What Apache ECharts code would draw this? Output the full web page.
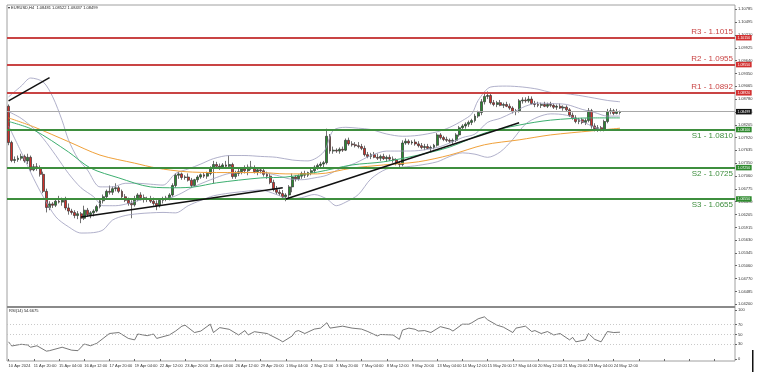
<!DOCTYPE html>
<html>
<head>
<meta charset="utf-8">
<script src="https://cdn.jsdelivr.net/npm/echarts@6/dist/echarts.min.js"></script>
<style>
html,body{margin:0;padding:0;background:#fff;}
#chart{width:760px;height:376px;}
</style>
</head>
<body>
<div id="chart"></div>
<script>
// EURUSD H4, 10 Apr 12:00 .. 24 May 2024
var symbolInfo = 'EURUSD,H4  1.08481 1.08522 1.08437 1.08499';
var rsiInfo = 'RSI(14) 54.6675';
var xTickLabels = ['10 Apr 2024','11 Apr 20:00','15 Apr 04:00','16 Apr 12:00','17 Apr 20:00','19 Apr 04:00',
  '22 Apr 12:00','23 Apr 20:00','25 Apr 04:00','26 Apr 12:00','29 Apr 20:00','1 May 04:00','2 May 12:00',
  '3 May 20:00','7 May 04:00','8 May 12:00','9 May 20:00','13 May 04:00','14 May 12:00','15 May 20:00',
  '17 May 04:00','20 May 12:00','21 May 20:00','23 May 04:00','24 May 12:00'];
var priceTicks = [1.10785,1.10495,1.10210,1.09925,1.09640,1.09350,1.09065,1.08780,1.08495,1.08205,1.07920,1.07635,
  1.07350,1.07060,1.06775,1.06490,1.06205,1.05915,1.05630,1.05345,1.05060,1.04770,1.04485,1.04200];
var rsiTicks = [100,70,50,30,0];
var rsiLevels = [70,50,30];
var levelNames = ['R3','R2','R1','S1','S2','S3'];
var levelValues = [1.1015,1.0955,1.0892,1.0810,1.0725,1.0655];
var lastPrice = 1.08499;

// [open, high, low, close]
var ohlc = [
[1.0862,1.0866,1.0775,1.0781],[1.0781,1.0785,1.0737,1.0741],[1.0741,1.0750,1.0735,1.0743],[1.0743,1.0752,1.0738,1.0746],
[1.0746,1.0756,1.0741,1.0750],[1.0750,1.0754,1.0736,1.0740],[1.0740,1.0756,1.0733,1.0748],[1.0748,1.0752,1.0716,1.0720],
[1.0720,1.0733,1.0717,1.0727],[1.0727,1.0735,1.0718,1.0724],[1.0724,1.0730,1.0705,1.0710],[1.0710,1.0716,1.0668,1.0672],
[1.0672,1.0678,1.0625,1.0636],[1.0636,1.0650,1.0630,1.0644],[1.0644,1.0648,1.0635,1.0641],[1.0641,1.0655,1.0637,1.0650],
[1.0650,1.0662,1.0645,1.0648],[1.0648,1.0658,1.0640,1.0652],[1.0652,1.0660,1.0630,1.0635],[1.0635,1.0645,1.0620,1.0628],
[1.0628,1.0633,1.0620,1.0625],[1.0625,1.0630,1.0612,1.0618],[1.0618,1.0628,1.0610,1.0622],[1.0622,1.0626,1.0601,1.0612],
[1.0612,1.0640,1.0608,1.0630],[1.0630,1.0635,1.0615,1.0620],[1.0620,1.0628,1.0612,1.0624],[1.0624,1.0632,1.0616,1.0628],
[1.0628,1.0642,1.0625,1.0638],[1.0638,1.0655,1.0634,1.0651],[1.0651,1.0665,1.0645,1.0660],[1.0660,1.0676,1.0655,1.0672],
[1.0672,1.0685,1.0665,1.0670],[1.0670,1.0683,1.0664,1.0678],[1.0678,1.0690,1.0672,1.0680],[1.0680,1.0684,1.0668,1.0672],
[1.0672,1.0676,1.0655,1.0660],[1.0660,1.0666,1.0648,1.0652],[1.0652,1.0658,1.0640,1.0645],[1.0645,1.0652,1.0612,1.0642],
[1.0642,1.0662,1.0638,1.0656],[1.0656,1.0668,1.0650,1.0664],[1.0664,1.0670,1.0652,1.0658],[1.0658,1.0665,1.0647,1.0655],
[1.0655,1.0660,1.0648,1.0654],[1.0654,1.0662,1.0646,1.0650],[1.0650,1.0658,1.0640,1.0645],[1.0645,1.0652,1.0630,1.0640],
[1.0640,1.0655,1.0636,1.0652],[1.0652,1.0660,1.0645,1.0655],[1.0655,1.0662,1.0650,1.0657],[1.0657,1.0668,1.0652,1.0664],
[1.0664,1.0690,1.0660,1.0685],[1.0685,1.0712,1.0680,1.0708],[1.0708,1.0716,1.0700,1.0711],[1.0711,1.0714,1.0698,1.0703],
[1.0703,1.0708,1.0698,1.0704],[1.0704,1.0712,1.0694,1.0697],[1.0697,1.0702,1.0680,1.0685],[1.0685,1.0700,1.0682,1.0698],
[1.0698,1.0708,1.0692,1.0704],[1.0704,1.0712,1.0700,1.0709],[1.0709,1.0714,1.0702,1.0706],[1.0706,1.0716,1.0700,1.0712],
[1.0712,1.0728,1.0708,1.0724],[1.0724,1.0740,1.0690,1.0732],[1.0732,1.0738,1.0722,1.0728],[1.0728,1.0734,1.0720,1.0726],
[1.0726,1.0735,1.0722,1.0731],[1.0731,1.0740,1.0725,1.0728],[1.0728,1.0752,1.0724,1.0732],[1.0732,1.0736,1.0700,1.0705],
[1.0705,1.0718,1.0700,1.0712],[1.0712,1.0722,1.0706,1.0716],[1.0716,1.0725,1.0710,1.0722],[1.0722,1.0730,1.0712,1.0718],
[1.0718,1.0732,1.0708,1.0726],[1.0726,1.0740,1.0720,1.0724],[1.0724,1.0730,1.0712,1.0716],[1.0716,1.0724,1.0708,1.0720],
[1.0720,1.0726,1.0712,1.0718],[1.0718,1.0724,1.0705,1.0710],[1.0710,1.0716,1.0700,1.0706],[1.0706,1.0712,1.0688,1.0692],
[1.0692,1.0698,1.0672,1.0676],[1.0676,1.0684,1.0665,1.0670],[1.0670,1.0676,1.0662,1.0667],[1.0667,1.0675,1.0655,1.0660],
[1.0660,1.0668,1.0650,1.0664],[1.0664,1.0686,1.0656,1.0682],[1.0682,1.0712,1.0670,1.0704],[1.0704,1.0708,1.0694,1.0700],
[1.0700,1.0710,1.0696,1.0706],[1.0706,1.0716,1.0700,1.0712],[1.0712,1.0718,1.0702,1.0708],[1.0708,1.0716,1.0704,1.0714],
[1.0714,1.0722,1.0708,1.0718],[1.0718,1.0730,1.0712,1.0726],[1.0726,1.0734,1.0720,1.0730],[1.0730,1.0738,1.0724,1.0733],
[1.0733,1.0740,1.0726,1.0736],[1.0736,1.0812,1.0732,1.0795],[1.0795,1.0800,1.0756,1.0762],[1.0762,1.0772,1.0756,1.0764],
[1.0764,1.0768,1.0758,1.0762],[1.0762,1.0770,1.0756,1.0766],[1.0766,1.0772,1.0760,1.0764],[1.0764,1.0790,1.0762,1.0786],
[1.0786,1.0792,1.0774,1.0778],[1.0778,1.0784,1.0772,1.0776],[1.0776,1.0782,1.0770,1.0774],[1.0774,1.0782,1.0768,1.0772],
[1.0772,1.0778,1.0764,1.0768],[1.0768,1.0774,1.0750,1.0754],[1.0754,1.0760,1.0746,1.0750],[1.0750,1.0758,1.0744,1.0754],
[1.0754,1.0760,1.0746,1.0748],[1.0748,1.0756,1.0742,1.0746],[1.0746,1.0754,1.0740,1.0750],[1.0750,1.0756,1.0742,1.0745],
[1.0745,1.0752,1.0738,1.0748],[1.0748,1.0754,1.0740,1.0744],[1.0744,1.0750,1.0736,1.0742],[1.0742,1.0746,1.0730,1.0734],
[1.0734,1.0740,1.0724,1.0732],[1.0732,1.0786,1.0728,1.0780],[1.0780,1.0790,1.0776,1.0784],[1.0784,1.0788,1.0776,1.0780],
[1.0780,1.0786,1.0776,1.0782],[1.0782,1.0788,1.0774,1.0778],[1.0778,1.0784,1.0770,1.0774],[1.0774,1.0780,1.0766,1.0770],
[1.0770,1.0778,1.0764,1.0772],[1.0772,1.0778,1.0766,1.0768],[1.0768,1.0774,1.0762,1.0770],[1.0770,1.0778,1.0766,1.0775],
[1.0775,1.0802,1.0772,1.0798],[1.0798,1.0802,1.0788,1.0792],[1.0792,1.0796,1.0784,1.0788],[1.0788,1.0794,1.0782,1.0786],
[1.0786,1.0790,1.0780,1.0784],[1.0784,1.0790,1.0778,1.0786],[1.0786,1.0802,1.0782,1.0798],[1.0798,1.0818,1.0794,1.0814],
[1.0814,1.0822,1.0808,1.0818],[1.0818,1.0826,1.0812,1.0822],[1.0822,1.0830,1.0816,1.0826],[1.0826,1.0834,1.0820,1.0830],
[1.0830,1.0845,1.0826,1.0840],[1.0840,1.0852,1.0836,1.0848],[1.0848,1.0878,1.0842,1.0872],[1.0872,1.0890,1.0866,1.0884],
[1.0884,1.0895,1.0878,1.0886],[1.0886,1.0890,1.0866,1.0870],[1.0870,1.0876,1.0862,1.0866],[1.0866,1.0874,1.0860,1.0870],
[1.0870,1.0876,1.0862,1.0864],[1.0864,1.0870,1.0858,1.0866],[1.0866,1.0872,1.0860,1.0862],[1.0862,1.0868,1.0854,1.0858],
[1.0858,1.0862,1.0846,1.0850],[1.0850,1.0856,1.0842,1.0852],[1.0852,1.0878,1.0848,1.0874],[1.0874,1.0882,1.0868,1.0876],
[1.0876,1.0882,1.0870,1.0874],[1.0874,1.0885,1.0870,1.0878],[1.0878,1.0884,1.0866,1.0868],[1.0868,1.0874,1.0860,1.0866],
[1.0866,1.0872,1.0860,1.0864],[1.0864,1.0870,1.0858,1.0866],[1.0866,1.0872,1.0860,1.0862],[1.0862,1.0870,1.0858,1.0866],
[1.0866,1.0872,1.0860,1.0864],[1.0864,1.0868,1.0856,1.0860],[1.0860,1.0866,1.0854,1.0862],[1.0862,1.0868,1.0856,1.0858],
[1.0858,1.0864,1.0852,1.0860],[1.0860,1.0864,1.0850,1.0854],[1.0854,1.0858,1.0838,1.0842],[1.0842,1.0848,1.0832,1.0836],
[1.0836,1.0842,1.0824,1.0828],[1.0828,1.0836,1.0822,1.0832],[1.0832,1.0836,1.0822,1.0826],[1.0826,1.0835,1.0820,1.0830],
[1.0830,1.0858,1.0826,1.0852],[1.0852,1.0856,1.0812,1.0818],[1.0818,1.0824,1.0806,1.0812],[1.0812,1.0820,1.0805,1.0814],
[1.0814,1.0818,1.0806,1.0810],[1.0810,1.0832,1.0806,1.0828],[1.0828,1.0856,1.0824,1.0850],[1.0850,1.0858,1.0844,1.0852],
[1.0852,1.0856,1.0842,1.0846],[1.0846,1.0856,1.0844,1.0850],[1.08481,1.08522,1.08437,1.08499]
];

// indicator lines: [bar index, price]
var bbUpper = [[0,1.0883],[4,1.0907],[7,1.0925],[11,1.0916],[14,1.0883],[17,1.0830],[19,1.0787],[22,1.0745],[25,1.0720],
  [29,1.0682],[33,1.0682],[37,1.0690],[41,1.0690],[45,1.0688],[49,1.0686],[53,1.0712],[57,1.0722],[61,1.0733],[65,1.0745],
  [70,1.0752],[75,1.0752],[80,1.0750],[85,1.0748],[90,1.0742],[95,1.0740],[100,1.0760],[103,1.0808],[107,1.0815],[111,1.0813],
  [115,1.0810],[120,1.0800],[125,1.0795],[130,1.0797],[136,1.0805],[140,1.0815],[144,1.0830],[147,1.0845],[149,1.0875],
  [153,1.0905],[158,1.0907],[163,1.0905],[168,1.0900],[172,1.0893],[177,1.0890],[182,1.0885],[186,1.0880],[190,1.0875],[194,1.0872]];
var bbMiddle = [[0,1.0850],[4,1.0835],[8,1.0812],[11,1.0790],[15,1.0752],[19,1.0712],[23,1.0680],[27,1.0660],[30,1.0640],
  [34,1.0640],[38,1.0645],[42,1.0653],[46,1.0656],[50,1.0656],[54,1.0665],[58,1.0680],[62,1.0692],[66,1.0703],[70,1.0712],
  [75,1.0714],[80,1.0714],[85,1.0708],[89,1.0700],[93,1.0698],[97,1.0702],[101,1.0708],[105,1.0722],[110,1.0735],[115,1.0752],
  [120,1.0762],[125,1.0762],[130,1.0763],[136,1.0770],[140,1.0780],[144,1.0792],[148,1.0800],[152,1.0826],[156,1.0835],
  [160,1.0848],[164,1.0862],[168,1.0869],[172,1.0868],[177,1.0866],[182,1.0855],[186,1.0848],[190,1.0840],[194,1.0840]];
var bbLower = [[0,1.0818],[4,1.0760],[8,1.0700],[11,1.0660],[15,1.0615],[19,1.0593],[23,1.0579],[27,1.0580],[30,1.0586],
  [33,1.0608],[37,1.0618],[41,1.0622],[45,1.0624],[49,1.0625],[53,1.0624],[57,1.0640],[61,1.0652],[65,1.0662],[70,1.0668],
  [75,1.0672],[80,1.0675],[85,1.0665],[89,1.0655],[93,1.0658],[97,1.0665],[101,1.0655],[104,1.0640],[107,1.0648],[111,1.0665],
  [115,1.0700],[120,1.0722],[125,1.0726],[130,1.0730],[136,1.0738],[140,1.0750],[144,1.0758],[148,1.0755],[152,1.0748],
  [156,1.0760],[160,1.0788],[164,1.0822],[168,1.0838],[172,1.0845],[177,1.0842],[182,1.0828],[186,1.0815],[190,1.0808],[194,1.0812]];
var maFast = [[0,1.0828],[8,1.0809],[19,1.0760],[26,1.0724],[35,1.0702],[45,1.0682],[53,1.0680],[59,1.0682],[66,1.0691],
  [80,1.0702],[88,1.0704],[98,1.0715],[109,1.0731],[119,1.0738],[130,1.0753],[140,1.0771],[151,1.0802],[162,1.0820],
  [172,1.0831],[185,1.0836],[194,1.0836]];
var maSlow = [[0,1.0836],[8,1.0816],[19,1.0783],[29,1.0753],[40,1.0735],[47,1.0724],[56,1.0716],[66,1.0714],[80,1.0714],
  [88,1.0711],[98,1.0711],[109,1.0724],[119,1.0731],[130,1.0738],[140,1.0753],[151,1.0776],[162,1.0787],[172,1.0798],
  [185,1.0807],[194,1.0813]];
var trendLines = [[[0,1.0874],[13,1.0926]], [[23,1.0615],[87,1.0680]], [[88,1.0655],[162,1.0825]]];

// RSI(14): [bar index, value]
var rsi = [[0,35],[1,26.5],[4,30],[6,28.6],[7,24],[9,27],[12,16],[13,17],[17,24],[20,18],[22,17],[24,30.6],[26,27],[28,32],
  [29,37],[32,52],[35,54],[38,42],[40,39],[41,51],[44,47.6],[46,51],[47,42],[51,49],[53,57],[55,67],[56,69],[59,54],[61,57],
  [64,71],[65,54],[67,64],[70,60.6],[73,49],[75,58],[76,49],[78,55.7],[82,52],[86,39],[87,35],[90,47],[91,56],[92,58],[94,52],
  [97,61],[99,63],[101,74],[102,63],[106,67],[109,63],[112,61],[114,56],[117,47],[118,50],[122,49],[124,40],[125,59],[127,63],
  [129,60.6],[130,57],[132,58],[134,54],[137,66],[140,61],[141,57],[144,71],[146,71],[147,74],[149,82],[151,86],[152,80],
  [155,69],[157,65],[160,54],[161,63],[164,67],[166,56],[167,58],[169,52],[171,56],[173,49],[175,52],[178,39],[179,44],
  [180,35],[183,39],[184,52],[186,40],[188,35],[190,56],[192,54],[194,54.67]];

var slots = 231;
var cats = [];
for (var i = 0; i < slots; i++) cats.push(String(i));
var candles = ohlc.map(function (d) { return [d[0], d[3], d[2], d[1]]; });

var RED = '#c94444', GREEN = '#3e8e3e';
var marks = [];
function tag(v, bg) {
  return {
    yAxis: v,
    lineStyle: {color: 'rgba(0,0,0,0)', width: 0},
    label: {show: true, position: 'end', distance: 1, formatter: v.toFixed(5), color: '#fff',
      backgroundColor: bg, fontSize: 3.5, padding: [1, 1.5, 0.5, 1.5], fontFamily: 'Liberation Sans'}
  };
}
levelValues.forEach(function (v, k) {
  var col = k < 3 ? RED : GREEN;
  marks.push({
    yAxis: v,
    lineStyle: {color: col, width: 2, type: 'solid'},
    label: {show: true, position: k < 3 ? 'insideEndTop' : 'insideEndBottom', distance: 2,
      formatter: levelNames[k] + ' - ' + v.toFixed(4), color: col, fontSize: 8, fontFamily: 'Liberation Sans'}
  });
  marks.push(tag(v, k < 3 ? '#d22f2f' : '#2f8a2f'));
});
marks.push({yAxis: lastPrice, lineStyle: {color: '#a8a8a8', width: 1, type: 'solid'}, label: {show: false}});
marks.push(tag(lastPrice, '#111'));
trendLines.forEach(function (t) {
  marks.push([{coord: t[0], lineStyle: {color: '#111', width: 1.5, type: 'solid'}, label: {show: false}}, {coord: t[1]}]);
});

function lineSeries(data, color, width) {
  return {type: 'line', xAxisIndex: 0, yAxisIndex: 0, data: data, showSymbol: false, smooth: 0.3,
    lineStyle: {color: color, width: width}, silent: true};
}

var chart = echarts.init(document.getElementById('chart'));
chart.setOption({
  animation: false,
  backgroundColor: '#fff',
  textStyle: {fontFamily: 'Liberation Sans'},
  grid: [
    {left: 7, right: 25, top: 5, height: 302, show: true, borderColor: '#a0a0a0', borderWidth: 1},
    {left: 7, right: 25, top: 307, height: 54, show: true, borderColor: '#a0a0a0', borderWidth: 1}
  ],
  xAxis: [
    {type: 'category', gridIndex: 0, data: cats, axisLine: {show: false}, axisTick: {show: false}, axisLabel: {show: false}},
    {type: 'category', gridIndex: 1, data: cats, axisLine: {show: false},
      axisTick: {show: true, interval: 7, length: 2, alignWithLabel: true, lineStyle: {color: '#666'}},
      axisLabel: {interval: 7, fontSize: 4, color: '#333', align: 'left', margin: 3,
        formatter: function (v, idx) { return xTickLabels[idx / 8] || ''; }}}
  ],
  yAxis: [
    {type: 'value', gridIndex: 0, position: 'right', min: 1.04139, max: 1.10880, splitLine: {show: false},
      axisLine: {show: false},
      axisTick: {show: true, length: 2, customValues: priceTicks, lineStyle: {color: '#666'}},
      axisLabel: {customValues: priceTicks, fontSize: 4, color: '#333', margin: 3,
        formatter: function (v) { return v.toFixed(5); }}},
    {type: 'value', gridIndex: 1, position: 'right', min: -4.1, max: 106.1, splitLine: {show: false},
      axisLine: {show: false},
      axisTick: {show: true, length: 2, customValues: rsiTicks, lineStyle: {color: '#666'}},
      axisLabel: {customValues: rsiTicks, fontSize: 4, color: '#333', margin: 3}}
  ],
  series: [
    {type: 'candlestick', xAxisIndex: 0, yAxisIndex: 0, data: candles, barWidth: 2.4,
      itemStyle: {color: '#2a8a30', color0: '#d3302a', borderColor: '#333', borderColor0: '#333', borderWidth: 0.7},
      markLine: {symbol: ['none', 'none'], precision: 5, silent: true, animation: false, z: 6, data: marks}},
    lineSeries(bbUpper, '#9c9cbc', 0.8),
    lineSeries(bbMiddle, '#9c9cbc', 0.8),
    lineSeries(bbLower, '#9c9cbc', 0.8),
    lineSeries(maFast, '#3daf70', 1),
    lineSeries(maSlow, '#f0a13a', 1),
    {type: 'line', xAxisIndex: 1, yAxisIndex: 1, data: rsi, showSymbol: false, silent: true,
      lineStyle: {color: '#555', width: 0.8},
      markLine: {symbol: ['none', 'none'], silent: true, animation: false, label: {show: false},
        lineStyle: {color: '#bbb', type: [1, 2], width: 0.8},
        data: rsiLevels.map(function (v) { return {yAxis: v}; })}}
  ],
  graphic: [
    {type: 'text', left: 8, top: 6, style: {text: '\u25BE ' + symbolInfo, fontSize: 4, fill: '#222', fontFamily: 'Liberation Sans'}},
    {type: 'text', left: 9, top: 309, style: {text: rsiInfo, fontSize: 4, fill: '#222', fontFamily: 'Liberation Sans'}},
    {type: 'line', shape: {x1: 7, y1: 307, x2: 735, y2: 307}, style: {stroke: '#8a8a8a', lineWidth: 2}},
    {type: 'rect', shape: {x: 752, y: 350, width: 1.5, height: 22}, style: {fill: '#111'}}
  ]
});
</script>
</body>
</html>
